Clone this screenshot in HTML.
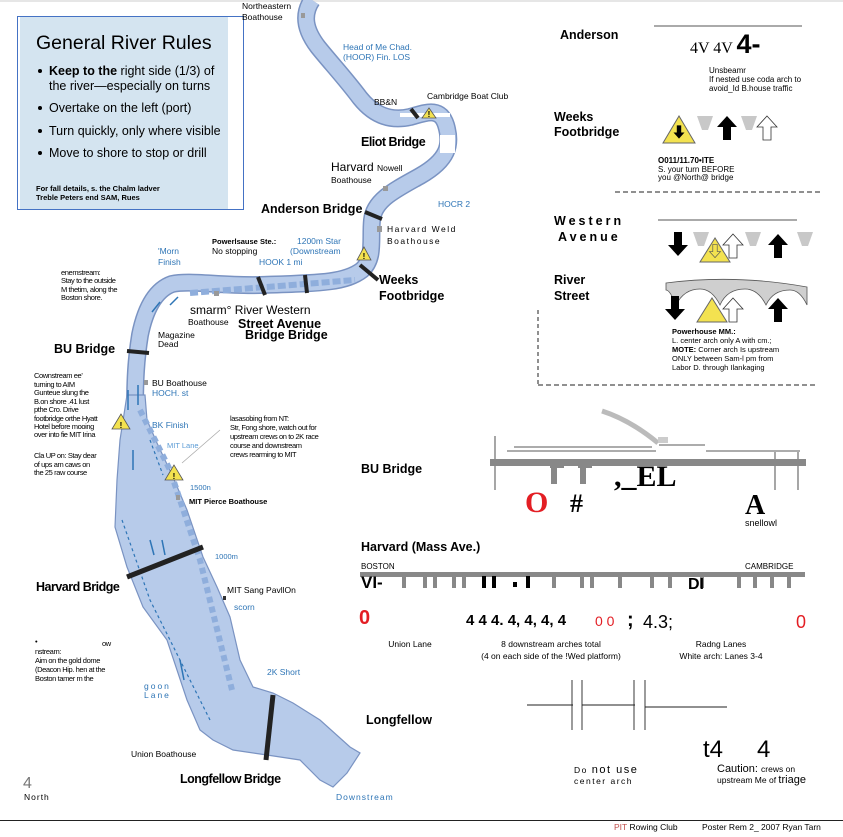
<!DOCTYPE html>
<html><head><meta charset="utf-8"><style>
html,body{margin:0;padding:0;background:#fff;}
svg{display:block;font-family:"Liberation Sans",Arial,sans-serif;}
.b{font-weight:bold}
.bl{fill:#2e75b6}
</style></head><body>
<svg width="843" height="837" viewBox="0 0 843 837" xmlns="http://www.w3.org/2000/svg">
<defs>
<path id="up" d="M0,-12 L10,-1 L4,-1 L4,12 L-4,12 L-4,-1 L-10,-1 Z"/>
<path id="dn" d="M0,12 L10,1 L4,1 L4,-12 L-4,-12 L-4,1 L-10,1 Z"/>
<path id="gv" d="M-8,0 L8,0 L3,14 L-3,14 Z"/>
</defs>
<rect x="0" y="0" width="843" height="2" fill="#e6e6e6"/>

<!-- River upper (stroked path) -->
<path d="M312,0 C302,15 305,30 318,47 C330,62 345,78 360,98 C372,113 388,122 410,117 C425,113 440,106 446,125 C452,145 448,160 420,176 C395,190 374,200 372,220 C370,240 375,258 362,270 C345,283 320,283 260,285 C220,286 190,280 172,284 C155,290 145,310 140,335 C136,360 135,380 135,410" fill="none" stroke="#7a93c2" stroke-width="18" stroke-linejoin="round"/>
<path d="M312,0 C302,15 305,30 318,47 C330,62 345,78 360,98 C372,113 388,122 410,117 C425,113 440,106 446,125 C452,145 448,160 420,176 C395,190 374,200 372,220 C370,240 375,258 362,270 C345,283 320,283 260,285 C220,286 190,280 172,284 C155,290 145,310 140,335 C136,360 135,380 135,410" fill="none" stroke="#b7cbea" stroke-width="15" stroke-linejoin="round"/>
<!-- River lower polygon -->
<polygon points="127,395 120,440 117,480 115,527 127,567 143,607 167,640 187,700 200,730 213,740 233,750 267,755 300,760 320,780 333,787 347,773 360,753 350,747 320,720 293,703 273,693 253,687 240,660 230,617 217,587 203,557 187,510 173,477 157,443 147,420 145,395" fill="#b7cbea" stroke="#7a93c2" stroke-width="1.2"/>
<!-- eliot gap -->
<rect x="400" y="113" width="50" height="4" fill="#fff"/>
<rect x="440" y="135" width="15" height="18" fill="#fff"/>

<!-- dashed course lanes -->
<path d="M190,293 L355,280" stroke="#8faedc" stroke-width="6" stroke-dasharray="8,3" fill="none"/>
<path d="M140,410 L170,470 L200,560 L232,690" stroke="#8faedc" stroke-width="6" stroke-dasharray="6,4" fill="none"/>
<path d="M122,520 L150,600 L210,720" stroke="#2e75b6" stroke-width="1.2" stroke-dasharray="3,3" fill="none"/>
<path d="M150,440 L163,475" stroke="#2e75b6" stroke-width="1.2" stroke-dasharray="3,3" fill="none"/>
<g stroke="#2e75b6" stroke-width="1.5" fill="none">
<path d="M128,390 L128,410"/><path d="M138,385 L138,405"/><path d="M133,450 L133,470"/><path d="M150,540 L154,555"/><path d="M162,540 L165,555"/>
<path d="M160,302 L152,312"/><path d="M170,305 L178,297"/><path d="M180,660 L184,680"/>
</g>

<!-- bridges -->
<g stroke="#222" stroke-width="4">
<line x1="411" y1="109" x2="418" y2="118"/>
<line x1="365" y1="212" x2="382" y2="219"/>
<line x1="360" y1="265" x2="378" y2="280"/>
<line x1="258" y1="277" x2="265" y2="295"/>
<line x1="305" y1="275" x2="307" y2="293"/>
<line x1="127" y1="351" x2="149" y2="353"/>
<line x1="127" y1="577" x2="203" y2="547" stroke-width="5"/>
<line x1="273" y1="695" x2="266" y2="760" stroke-width="5"/>
</g>
<!-- boathouse squares -->
<g fill="#999"><rect x="301" y="13" width="4" height="5"/><rect x="383" y="186" width="5" height="5"/><rect x="377" y="226" width="5" height="6"/><rect x="214" y="291" width="5" height="5"/><rect x="144" y="380" width="4" height="5"/><rect x="176" y="495" width="4" height="5"/><rect x="223" y="596" width="3" height="4" fill="#333"/></g>
<!-- warning triangles -->
<g fill="#f3e250" stroke="#555" stroke-width="0.8">
<polygon points="429,108 422,118 436,118"/>
<polygon points="364,247 357,260 371,260"/>
<polygon points="121,414 112,429 130,429"/>
<polygon points="174,465 165,480 183,480"/>
</g>
<g font-size="8" font-weight="bold" text-anchor="middle"><text x="429" y="117">!</text><text x="364" y="259">!</text><text x="121" y="428">!</text><text x="174" y="479">!</text></g>
<line x1="182" y1="463" x2="220" y2="430" stroke="#aaa" stroke-width="0.8"/>

<!-- General River Rules box -->
<rect x="17.5" y="16.5" width="226" height="193" fill="#fff" stroke="#4472c4" stroke-width="1"/>
<rect x="20" y="17" width="208" height="192" fill="#d4e4f0"/>
<text x="36" y="49" font-size="19.5">General River Rules</text>
<g font-size="12.5">
<circle cx="40" cy="71" r="2"/><text x="49" y="75"><tspan font-weight="bold">Keep to the</tspan> right side (1/3) of</text>
<text x="49" y="90">the river—especially on turns</text>
<circle cx="40" cy="108" r="2"/><text x="49" y="112">Overtake on the left (port)</text>
<circle cx="40" cy="131" r="2"/><text x="49" y="135">Turn quickly, only where visible</text>
<circle cx="40" cy="153" r="2"/><text x="49" y="157">Move to shore to stop or drill</text>
</g>
<text x="36" y="191" font-size="7.5" font-weight="bold">For fall details, s. the Chalm ladver</text>
<text x="36" y="200" font-size="7.5" font-weight="bold">Treble Peters end SAM, Rues</text>

<!-- map labels -->
<g font-size="8.5">
<text x="242" y="9">Northeastern</text><text x="242" y="20">Boathouse</text>
<text x="343" y="50" class="bl">Head of Me Chad.</text><text x="343" y="60" class="bl">(HOOR) Fin. LOS</text>
<text x="374" y="105">BB&amp;N</text><text x="427" y="99">Cambridge Boat Club</text>
<text x="438" y="207" class="bl">HOCR 2</text>
<text x="387" y="232" letter-spacing="1.5">Harvard Weld</text><text x="387" y="244" letter-spacing="1.5">Boathouse</text>
<text x="297" y="244" class="bl">1200m Star</text><text x="290" y="254" class="bl">(Downstream</text>
<text x="259" y="265" class="bl">HOOK 1 mi</text>
<text x="212" y="244" font-size="7.5" font-weight="bold">Powerlsause Ste.:</text><text x="212" y="254">No stopping</text>
<text x="158" y="254" class="bl">'Morn</text><text x="158" y="265" class="bl">Finish</text>
<text x="188" y="325">Boathouse</text>
<text x="158" y="338">Magazine</text><text x="158" y="347">Dead</text>
<text x="152" y="386">BU Boathouse</text><text x="152" y="396" class="bl">HOCH. st</text>
<text x="152" y="428" class="bl">BK Finish</text>
<text x="167" y="448" font-size="7.5" fill="#5b9bd5">MIT Lane</text>
<text x="190" y="490" font-size="7.5" class="bl">1500n</text>
<text x="189" y="504" font-size="7.5" font-weight="bold">MIT Pierce Boathouse</text>
<text x="215" y="559" font-size="7.5" class="bl">1000m</text>
<text x="227" y="593">MIT Sang PavllOn</text>
<text x="234" y="610" class="bl">scorn</text>
<text x="267" y="675" class="bl">2K Short</text>
<text x="144" y="689" class="bl" letter-spacing="2">goon</text><text x="144" y="698" class="bl" letter-spacing="2">Lane</text>
<text x="131" y="757">Union Boathouse</text>
<text x="336" y="800" class="bl" letter-spacing="1">Downstream</text>
<text x="24" y="800" letter-spacing="1">North</text>
</g>
<text x="23" y="788" font-size="16" fill="#777">4</text>
<g font-size="7.5" letter-spacing="-0.4">
<text x="61" y="275">enemstream:</text><text x="61" y="283">Stay to the outside</text><text x="61" y="292">M thetim, along the</text><text x="61" y="300">Boston shore.</text>
<text x="34" y="378">Cownstream ee'</text><text x="34" y="387">turning to AIM</text><text x="34" y="395">Gunteue slung the</text><text x="34" y="404">B.on shore .41 lust</text><text x="34" y="412">pthe Cro. Drive</text><text x="34" y="421">footbridge orthe Hyatt</text><text x="34" y="429">Hotel before mooing</text><text x="34" y="437">over into fie MIT Irina</text>
<text x="34" y="458">Cla UP on: Stay dear</text><text x="34" y="467">of ups am caws on</text><text x="34" y="475">the 25 raw course</text>
<text x="230" y="421">lasasobing from NT:</text><text x="230" y="430">Str, Fong shore, watch out for</text><text x="230" y="439">upstream crews on to 2K race</text><text x="230" y="448">course and downstream</text><text x="230" y="457">crews rearming to MIT</text>
<text x="35" y="644">•</text><text x="102" y="646">ow</text><text x="35" y="654">nstream:</text><text x="35" y="663">Aim on the gold dome</text><text x="35" y="672">(Deacon Hip. hen at the</text><text x="35" y="681">Boston tamer m the</text>
</g>
<g font-size="12.5" font-weight="bold">
<text x="361" y="146" letter-spacing="-0.5">Eliot Bridge</text>
<text x="261" y="213">Anderson Bridge</text>
<text x="379" y="284">Weeks</text><text x="379" y="300">Footbridge</text>
<text x="238" y="328">Street Avenue</text><text x="245" y="339">Bridge Bridge</text>
<text x="54" y="353">BU Bridge</text>
<text x="36" y="591" letter-spacing="-0.5">Harvard Bridge</text>
<text x="180" y="783" letter-spacing="-0.5">Longfellow Bridge</text>
</g>
<text x="331" y="171" font-size="12">Harvard <tspan font-size="8.5">Nowell</tspan></text>
<text x="331" y="183" font-size="8.5">Boathouse</text>
<text x="190" y="314" font-size="12">smarm° River Western</text>

<!-- RIGHT PANEL -->
<g font-weight="bold" font-size="12.5">
<text x="560" y="39">Anderson</text>
<text x="554" y="121">Weeks</text><text x="554" y="136">Footbridge</text>
<text x="554" y="225" letter-spacing="3">Western</text><text x="558" y="241" letter-spacing="3">Avenue</text>
<text x="554" y="284">River</text><text x="554" y="300">Street</text>
<text x="361" y="473">BU Bridge</text>
<text x="361" y="551">Harvard (Mass Ave.)</text>
<text x="366" y="724">Longfellow</text>
</g>
<line x1="654" y1="26" x2="802" y2="26" stroke="#555"/>
<text x="690" y="53" font-family="Liberation Serif,serif" font-size="16">4V 4V <tspan font-family="Liberation Sans,sans-serif" font-size="27" font-weight="bold">4-</tspan></text>
<g font-size="8"><text x="709" y="73">Unsbeamr</text><text x="709" y="82">If nested use coda arch to</text><text x="709" y="91">avoid_Id B.house traffic</text></g>

<!-- Weeks icons -->
<polygon points="679,116 663,143 695,143" fill="#f3e250" stroke="#666"/>
<use href="#dn" x="679" y="132" transform="translate(679,132) scale(0.55) translate(-679,-132)"/>
<g fill="#c8c8c8"><use href="#gv" x="705" y="116"/><use href="#gv" x="749" y="116"/></g>
<use href="#up" x="727" y="128"/>
<use href="#up" x="767" y="128" fill="#fff" stroke="#333" stroke-width="0.8"/>
<text x="658" y="163" font-size="8" font-weight="bold">O011/11.70•ITE</text>
<text x="658" y="172" font-size="8">S. your turn BEFORE</text>
<text x="658" y="180" font-size="8">you @North@ bridge</text>
<line x1="615" y1="192" x2="822" y2="192" stroke="#222" stroke-dasharray="5,3"/>

<line x1="658" y1="220" x2="797" y2="220" stroke="#555"/>
<use href="#dn" x="678" y="244"/>
<g fill="#c8c8c8"><use href="#gv" x="701" y="232"/><use href="#gv" x="753" y="232"/><use href="#gv" x="805" y="232"/></g>
<polygon points="715,238 700,262 730,262" fill="#f3e250" stroke="#666"/>
<use href="#dn" x="715" y="251" fill="#f3e250" stroke="#555" stroke-width="1.2" transform="translate(715,251) scale(0.55) translate(-715,-251)"/>
<use href="#up" x="733" y="246" fill="#fff" stroke="#333" stroke-width="0.8"/>
<use href="#up" x="778" y="246"/>

<path d="M666,283 Q735,274 807,287 L807,305 Q800,290 790,290 Q773,290 766,305 Q758,289 745,289 Q727,289 720,305 Q712,289 700,289 Q684,289 676,305 Q670,290 666,290 Z" fill="#cfcfcf" stroke="#555" stroke-width="0.8"/>
<use href="#dn" x="675" y="308"/>
<polygon points="712,298 697,322 727,322" fill="#f3e250" stroke="#666"/>
<use href="#up" x="733" y="310" fill="#fff" stroke="#333" stroke-width="0.8"/>
<use href="#up" x="778" y="310"/>
<g font-size="7.5"><text x="672" y="334" font-weight="bold">Powerhouse MM.:</text><text x="672" y="343">L. center arch only A with cm.;</text><text x="672" y="352"><tspan font-weight="bold">MOTE:</tspan> Corner arch Is upstream</text><text x="672" y="361">ONLY between Sam-l pm from</text><text x="672" y="370">Labor D. through Ilankaging</text></g>
<line x1="538" y1="310" x2="538" y2="385" stroke="#222" stroke-dasharray="4,3"/>
<line x1="538" y1="385" x2="818" y2="385" stroke="#222" stroke-dasharray="5,3"/>

<!-- BU Bridge drawing -->
<path d="M602,411 Q630,420 658,443" fill="none" stroke="#bbb" stroke-width="5"/>
<rect x="658" y="437" width="10" height="6" fill="#ccc"/>
<g stroke="#222" stroke-width="0.8">
<line x1="495" y1="436" x2="495" y2="490"/><line x1="514" y1="447" x2="652" y2="447"/><line x1="507" y1="451" x2="656" y2="451"/>
<line x1="659" y1="445" x2="705" y2="445"/><line x1="706" y1="451" x2="800" y2="451"/>
<line x1="775" y1="452" x2="775" y2="490"/><line x1="798" y1="452" x2="798" y2="490"/>
</g>
<rect x="490" y="459" width="316" height="7" fill="#888"/>
<g fill="#888"><rect x="551" y="464" width="6" height="20"/><rect x="550" y="463" width="14" height="5"/><rect x="580" y="464" width="6" height="20"/><rect x="578" y="463" width="14" height="5"/></g>
<text x="614" y="486" font-family="Liberation Serif,serif" font-size="30" font-weight="bold">,_EL</text>
<text x="525" y="512" font-family="Liberation Serif,serif" font-size="30" font-weight="bold" fill="#e31e24">O</text>
<text x="570" y="512" font-family="Liberation Serif,serif" font-size="26" font-weight="bold">#</text>
<text x="745" y="514" font-family="Liberation Serif,serif" font-size="28" font-weight="bold">A</text>
<text x="745" y="526" font-size="9">snellowl</text>

<!-- Harvard Mass Ave -->
<text x="361" y="569" font-size="8">BOSTON</text>
<text x="745" y="569" font-size="8">CAMBRIDGE</text>
<rect x="360" y="572" width="445" height="5" fill="#888"/>
<text x="361" y="588" font-size="17" font-weight="bold">VI-</text>
<g fill="#888"><rect x="402" y="576" width="4" height="12"/><rect x="423" y="576" width="4" height="12"/><rect x="433" y="576" width="4" height="12"/><rect x="452" y="576" width="4" height="12"/><rect x="462" y="576" width="4" height="12"/><rect x="552" y="576" width="4" height="12"/><rect x="580" y="576" width="4" height="12"/><rect x="590" y="576" width="4" height="12"/><rect x="618" y="576" width="4" height="12"/><rect x="650" y="576" width="4" height="12"/><rect x="668" y="576" width="4" height="12"/><rect x="700" y="576" width="4" height="12"/><rect x="737" y="576" width="4" height="12"/><rect x="753" y="576" width="4" height="12"/><rect x="770" y="576" width="4" height="12"/><rect x="787" y="576" width="4" height="12"/></g>
<g fill="#000"><rect x="482" y="576" width="4" height="12"/><rect x="492" y="576" width="4" height="12"/><rect x="513" y="582" width="4" height="5"/><rect x="526" y="576" width="4" height="12"/></g>
<text x="688" y="589" font-size="16" font-weight="bold">DI</text>
<text x="359" y="624" font-size="20" font-weight="bold" fill="#e31e24">0</text>
<text x="466" y="625" font-size="15" font-weight="bold">4 4 4. 4, 4, 4, 4</text>
<text x="595" y="626" font-size="14" fill="#e31e24">0 0</text>
<text x="627" y="626" font-size="20" font-weight="bold">;</text>
<text x="643" y="628" font-size="18">4.3;</text>
<text x="796" y="628" font-size="18" fill="#e31e24">0</text>
<g font-size="8.5" text-anchor="middle">
<text x="410" y="647">Union Lane</text><text x="551" y="647">8 downstream arches total</text><text x="551" y="659">(4 on each side of the !Wed platform)</text>
<text x="721" y="647">Radng Lanes</text><text x="721" y="659">White arch: Lanes 3-4</text>
</g>

<!-- Longfellow lines -->
<g stroke="#222" stroke-width="0.9">
<line x1="527" y1="705" x2="573" y2="705"/><line x1="582" y1="705" x2="635" y2="705"/><line x1="645" y1="707" x2="727" y2="707"/>
<line x1="572" y1="680" x2="572" y2="730"/><line x1="582" y1="680" x2="582" y2="730"/><line x1="634" y1="680" x2="634" y2="730"/><line x1="645" y1="680" x2="645" y2="730"/>
</g>
<text x="703" y="757" font-size="24">t4</text><text x="757" y="757" font-size="24">4</text>
<text x="574" y="773" font-size="8.5" letter-spacing="1.5">Do <tspan font-size="11">not use</tspan></text>
<text x="574" y="784" font-size="8.5" letter-spacing="1.5">center arch</text>
<text x="717" y="772" font-size="11">Caution: <tspan font-size="8.5">crews on</tspan></text>
<text x="717" y="783" font-size="8.5">upstream Me of <tspan font-size="11">triage</tspan></text>

<line x1="0" y1="820.5" x2="843" y2="820.5" stroke="#222" stroke-width="1"/>
<text x="614" y="830" font-size="8.5"><tspan fill="#c0504d">PIT</tspan> Rowing Club</text>
<text x="702" y="830" font-size="8.5">Poster Rem 2_ 2007 Ryan Tarn</text>
</svg>
</body></html>
